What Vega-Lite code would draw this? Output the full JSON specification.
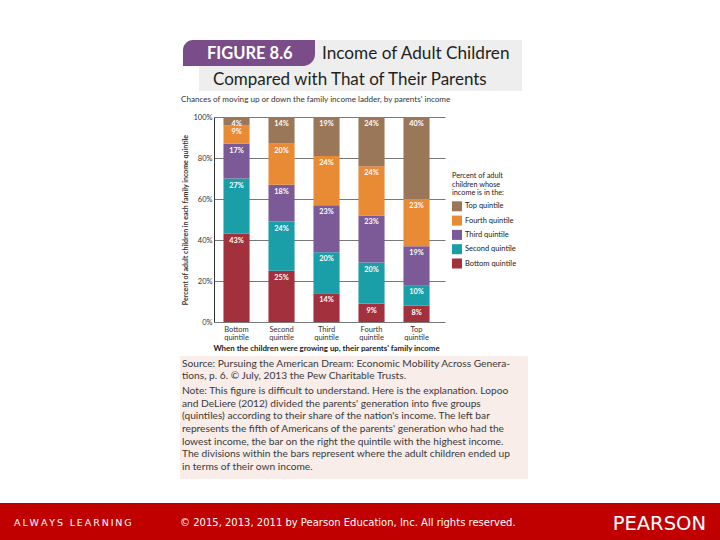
{
  "$schema": "https://vega.github.io/schema/vega-lite/v6.json",
  "autosize": {"type": "none"},
  "width": 231,
  "height": 205,
  "padding": {"left": 214, "top": 117, "right": 275, "bottom": 218},
  "background": "white",
  "config": {"view": {"stroke": null}, "font": "Lato"},
  "data": {"values": [
    {"parent": "Bottom quintile", "child": "Bottom quintile", "rank": 1, "pct": 43},
    {"parent": "Bottom quintile", "child": "Second quintile", "rank": 2, "pct": 27},
    {"parent": "Bottom quintile", "child": "Third quintile", "rank": 3, "pct": 17},
    {"parent": "Bottom quintile", "child": "Fourth quintile", "rank": 4, "pct": 9},
    {"parent": "Bottom quintile", "child": "Top quintile", "rank": 5, "pct": 4},
    {"parent": "Second quintile", "child": "Bottom quintile", "rank": 1, "pct": 25},
    {"parent": "Second quintile", "child": "Second quintile", "rank": 2, "pct": 24},
    {"parent": "Second quintile", "child": "Third quintile", "rank": 3, "pct": 18},
    {"parent": "Second quintile", "child": "Fourth quintile", "rank": 4, "pct": 20},
    {"parent": "Second quintile", "child": "Top quintile", "rank": 5, "pct": 14},
    {"parent": "Third quintile", "child": "Bottom quintile", "rank": 1, "pct": 14},
    {"parent": "Third quintile", "child": "Second quintile", "rank": 2, "pct": 20},
    {"parent": "Third quintile", "child": "Third quintile", "rank": 3, "pct": 23},
    {"parent": "Third quintile", "child": "Fourth quintile", "rank": 4, "pct": 24},
    {"parent": "Third quintile", "child": "Top quintile", "rank": 5, "pct": 19},
    {"parent": "Fourth quintile", "child": "Bottom quintile", "rank": 1, "pct": 9},
    {"parent": "Fourth quintile", "child": "Second quintile", "rank": 2, "pct": 20},
    {"parent": "Fourth quintile", "child": "Third quintile", "rank": 3, "pct": 23},
    {"parent": "Fourth quintile", "child": "Fourth quintile", "rank": 4, "pct": 24},
    {"parent": "Fourth quintile", "child": "Top quintile", "rank": 5, "pct": 24},
    {"parent": "Top quintile", "child": "Bottom quintile", "rank": 1, "pct": 8},
    {"parent": "Top quintile", "child": "Second quintile", "rank": 2, "pct": 10},
    {"parent": "Top quintile", "child": "Third quintile", "rank": 3, "pct": 19},
    {"parent": "Top quintile", "child": "Fourth quintile", "rank": 4, "pct": 23},
    {"parent": "Top quintile", "child": "Top quintile", "rank": 5, "pct": 40}
  ]},
  "layer": [
    {
      "data": {"values": [{}]},
      "mark": {"type": "rect", "x": -15, "x2": 308, "y": -77, "y2": -26, "fill": "#eeeeee"},
      "encoding": {}
    },
    {
      "data": {"values": [{}]},
      "mark": {"type": "rect", "x": -31, "x2": 101, "y": -77, "y2": -51, "fill": "#7a4d8a", "cornerRadiusTopLeft": 10, "cornerRadiusBottomRight": 12},
      "encoding": {}
    },
    {
      "data": {"values": [{}]},
      "mark": {"type": "text", "x": -7, "y": -58, "text": "FIGURE 8.6", "fill": "white", "fontSize": 16.5, "fontWeight": "bold", "align": "left", "baseline": "alphabetic"},
      "encoding": {}
    },
    {
      "data": {"values": [{}]},
      "mark": {"type": "text", "x": 108, "y": -58, "text": "Income of Adult Children", "fill": "#231f20", "fontSize": 17.2, "align": "left", "baseline": "alphabetic"},
      "encoding": {}
    },
    {
      "data": {"values": [{}]},
      "mark": {"type": "text", "x": -1, "y": -32, "text": "Compared with That of Their Parents", "fill": "#231f20", "fontSize": 17, "align": "left", "baseline": "alphabetic"},
      "encoding": {}
    },
    {
      "data": {"values": [{}]},
      "mark": {"type": "text", "x": -33, "y": -15, "text": "Chances of moving up or down the family income ladder, by parents' income", "fill": "#333333", "fontSize": 8.1, "align": "left", "baseline": "alphabetic"},
      "encoding": {}
    },
    {
      "data": {"values": [{}]},
      "mark": {"type": "rect", "x": -34, "x2": 314, "y": 239, "y2": 362, "fill": "#f8ede9"},
      "encoding": {}
    },
    {
      "data": {"values": [{}]},
      "mark": {"type": "text", "x": -32, "y": 250, "text": ["Source: Pursuing the American Dream: Economic Mobility Across Genera-", "tions, p. 6. © July, 2013 the Pew Charitable Trusts."], "lineHeight": 12, "fill": "#3a3a3a", "fontSize": 10.2, "align": "left", "baseline": "alphabetic"},
      "encoding": {}
    },
    {
      "data": {"values": [{}]},
      "mark": {"type": "text", "x": -32, "y": 277, "text": ["Note: This figure is difficult to understand. Here is the explanation. Lopoo", "and DeLiere (2012) divided the parents' generation into five groups", "(quintiles) according to their share of the nation's income. The left bar", "represents the fifth of Americans of the parents' generation who had the", "lowest income, the bar on the right the quintile with the highest income.", "The divisions within the bars represent where the adult children ended up", "in terms of their own income."], "lineHeight": 12.67, "fill": "#3a3a3a", "fontSize": 10.2, "align": "left", "baseline": "alphabetic"},
      "encoding": {}
    },
    {
      "data": {"values": [{}]},
      "mark": {"type": "rect", "x": -214, "x2": 506, "y": 386, "y2": 423, "fill": "#c00000"},
      "encoding": {}
    },
    {
      "data": {"values": [{}]},
      "mark": {"type": "text", "x": -200, "y": 409, "text": "A\u2009L\u2009W\u2009A\u2009Y\u2009S\u2002\u2009L\u2009E\u2009A\u2009R\u2009N\u2009I\u2009N\u2009G", "fill": "white", "font": "DejaVu Sans", "fontSize": 9.5, "align": "left", "baseline": "alphabetic"},
      "encoding": {}
    },
    {
      "data": {"values": [{}]},
      "mark": {"type": "text", "x": -34, "y": 409, "text": "© 2015, 2013, 2011 by Pearson Education, Inc. All rights reserved.", "fill": "white", "font": "DejaVu Sans", "fontSize": 10, "align": "left", "baseline": "alphabetic"},
      "encoding": {}
    },
    {
      "data": {"values": [{}]},
      "mark": {"type": "text", "x": 492, "y": 413, "text": "PEARSON", "fill": "white", "font": "DejaVu Sans", "fontSize": 19.5, "align": "right", "baseline": "alphabetic"},
      "encoding": {}
    },
    {
      "mark": {"type": "bar"},
      "encoding": {
        "x": {
          "field": "parent", "type": "nominal",
          "sort": ["Bottom quintile", "Second quintile", "Third quintile", "Fourth quintile", "Top quintile"],
          "scale": {"paddingInner": 0.42, "paddingOuter": 0.2767, "align": 0.38},
          "axis": {
            "title": "When the children were growing up, their parents' family income",
            "titleFontSize": 7.9, "titleFontWeight": "bold", "titleColor": "#222222", "titlePadding": 4, "titleX": 112,
            "labelExpr": "split(datum.label, ' ')",
            "labelFontSize": 7.5, "labelColor": "#333333", "labelLineHeight": 8, "labelAngle": 0,
            "labelPadding": 3, "ticks": false, "domain": false
          }
        },
        "y": {
          "field": "pct", "type": "quantitative", "stack": "zero",
          "scale": {"domain": [0, 100], "nice": false, "clamp": true},
          "axis": {
            "title": "Percent of adult children in each family income quintile",
            "titleFontSize": 7, "titleFontWeight": "bold", "titleColor": "#333333", "titlePadding": 4,
            "values": [0, 10, 20, 30, 40, 50, 60, 70, 80, 90, 100],
            "labelExpr": "datum.value % 20 == 0 ? datum.value + '%' : ''",
            "labelFontSize": 7.5, "labelColor": "#333333", "labelPadding": 2,
            "ticks": false, "domainColor": "#333333", "domainWidth": 1,
            "grid": true, "gridColor": "#555555", "gridWidth": 0.8
          }
        },
        "color": {
          "field": "child", "type": "nominal",
          "scale": {
            "domain": ["Top quintile", "Fourth quintile", "Third quintile", "Second quintile", "Bottom quintile"],
            "range": ["#9a7759", "#e98a35", "#7b5a97", "#1a9ea8", "#a3303d"]
          },
          "legend": {
            "orient": "none", "legendX": 238, "legendY": 55,
            "title": ["Percent of adult", "children whose", "income is in the:"],
            "titleFontSize": 7.3, "titleFontWeight": "normal", "titleColor": "#222222", "titleLineHeight": 8.5, "titlePadding": 5,
            "labelFontSize": 7.5, "labelColor": "#222222", "labelOffset": 3,
            "symbolType": "square", "symbolSize": 100, "symbolStrokeWidth": 0, "rowPadding": 4.3
          }
        },
        "order": {"field": "rank", "type": "quantitative"}
      }
    },
    {
      "mark": {"type": "text", "fill": "white", "fontSize": 7.3, "fontWeight": "bold", "baseline": "top", "dy": 3, "text": {"expr": "datum.pct + '%'"}},
      "encoding": {
        "x": {"field": "parent", "type": "nominal", "sort": ["Bottom quintile", "Second quintile", "Third quintile", "Fourth quintile", "Top quintile"]},
        "y": {"field": "pct", "type": "quantitative", "stack": "zero"},
        "detail": {"field": "child"},
        "order": {"field": "rank", "type": "quantitative"}
      }
    }
  ]
}
